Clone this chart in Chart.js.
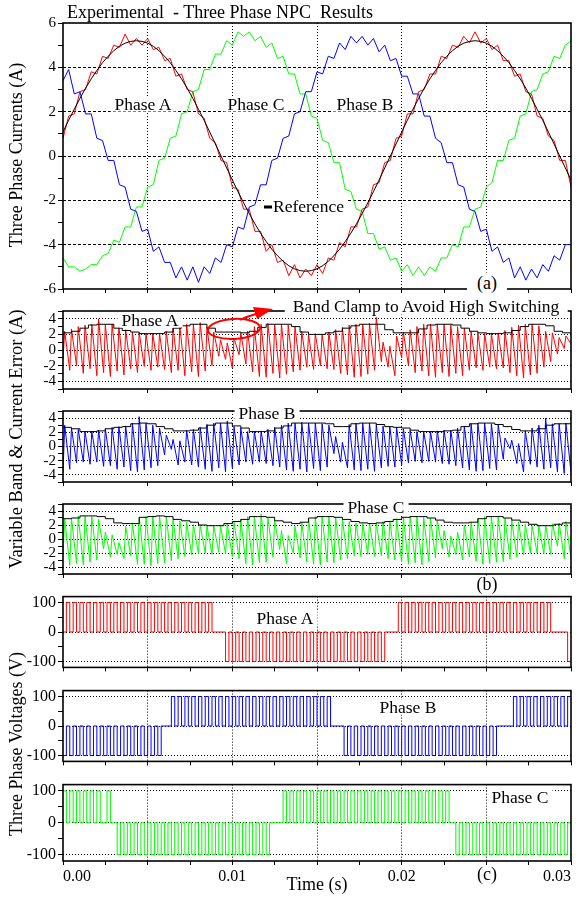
<!DOCTYPE html>
<html lang="en">
<head>
<meta charset="utf-8">
<title>Experimental - Three Phase NPC Results</title>
<script src="https://cdn.jsdelivr.net/npm/chart.js@4.4.1/dist/chart.umd.min.js"></script>
<style>
  html, body { margin: 0; padding: 0; background: #fff; }
  #page { position: relative; width: 578px; height: 899px; overflow: hidden;
          font-family: "Liberation Serif", "Times New Roman", serif; color: #000; }
  #page canvas { position: absolute; left: 0; }
  .note { position: absolute; transform: translate(-50%, -50%); white-space: pre;
          font-size: 17.5px; line-height: 15px; background: #fff; padding: 0 4px; }
  .axis-title { position: absolute; transform: translate(-50%, -50%) rotate(-90deg);
                white-space: nowrap; font-size: 18px; }
  .dash { display: inline-block; width: 8px; height: 3px; background: #000;
          vertical-align: middle; margin-right: 1px; }
</style>
</head>
<body>
<div id="page">
  <div class="note" style="left:67px; top:12px; transform:translateY(-50%); background:none; padding:0; font-size:18px;">Experimental  - Three Phase NPC  Results</div>

  <div class="axis-title" style="left:16px; top:155px;">Three Phase Currents (A)</div>
  <div class="axis-title" style="left:16px; top:439px; font-size:18.5px;">Variable Band &amp; Current Error (A)</div>
  <div class="axis-title" style="left:16px; top:744px;">Three Phase Voltages (V)</div>

  <!-- panel (a) -->
  <div class="note" style="left:143px; top:104px;">Phase A</div>
  <div class="note" style="left:256px; top:104px;">Phase C</div>
  <div class="note" style="left:365px; top:104px;">Phase B</div>
  <div class="note" style="left:264px; top:206px; transform:translateY(-50%); padding:0 3px 0 0;"><span class="dash"></span>Reference</div>
  <div class="note" style="left:487px; top:283px; padding:3px 10px; font-size:18px;">(a)</div>

  <!-- panel (b) -->
  <div class="note" style="left:426px; top:306px; padding:1px 8px;">Band Clamp to Avoid High Switching</div>
  <div class="note" style="left:150px; top:320px;">Phase A</div>
  <div class="note" style="left:267px; top:413px;">Phase B</div>
  <div class="note" style="left:376px; top:507px;">Phase C</div>
  <div class="note" style="left:487px; top:584px; padding:1px 10px; font-size:18px;">(b)</div>

  <!-- panel (c) -->
  <div class="note" style="left:285px; top:618px;">Phase A</div>
  <div class="note" style="left:408px; top:707px;">Phase B</div>
  <div class="note" style="left:520px; top:797px;">Phase C</div>
  <div class="note" style="left:487px; top:874px; background:none; font-size:18px;">(c)</div>
</div>

<script>
const FONT = '"Liberation Serif", "Times New Roman", serif';

// ---------- (a) three phase currents, one sample every 1/3 ms ----------
const currentStep = 0.02 / 60;
const currentA = [
  0.8, 1.8, 1.9, 2.9, 3.0, 3.8, 3.7, 4.5, 4.4, 5.0,
  4.9, 5.5, 5.0, 5.3, 5.0, 5.3, 4.8, 4.9, 4.3, 4.4,
  3.6, 3.7, 3.0, 2.9, 1.9, 1.7, 0.8, 0.6, -0.2, -0.3,
  -1.4, -1.5, -2.4, -2.4, -3.4, -3.4, -4.3, -4.0, -4.8, -4.7,
  -5.4, -4.9, -5.5, -5.1, -5.4, -4.9, -5.3, -4.6, -4.7, -3.9,
  -4.1, -3.2, -3.2, -2.4, -2.3, -1.3, -1.2, -0.3, -0.2, 0.8,
  0.9, 1.9, 1.9, 2.9, 3.0, 3.7, 3.7, 4.5, 4.4, 5.0,
  4.9, 5.4, 5.1, 5.6, 5.1, 5.3, 4.8, 5.0, 4.3, 4.3,
  3.6, 3.7, 2.9, 2.8, 1.8, 1.7, 0.9, 0.7, -0.2, -0.2,
  -1.4
];
const currentB = [
  3.4, 3.9, 2.8, 2.9, 1.9, 1.9, 0.8, 0.7, -0.2, -0.2,
  -1.3, -1.4, -2.4, -2.5, -3.4, -3.3, -4.3, -4.1, -4.8, -4.8,
  -5.5, -5.0, -5.6, -5.0, -5.7, -5.0, -5.3, -4.6, -4.8, -4.0,
  -4.1, -3.2, -3.3, -2.3, -2.2, -1.3, -1.3, -0.2, -0.1, 0.8,
  0.9, 1.9, 2.0, 2.9, 2.9, 3.8, 3.7, 4.5, 4.4, 5.1,
  4.8, 5.4, 5.1, 5.4, 5.0, 5.3, 4.7, 5.0, 4.3, 4.4,
  3.6, 3.6, 2.8, 2.8, 1.8, 1.8, 0.8, 0.6, -0.3, -0.3,
  -1.3, -1.4, -2.4, -2.5, -3.4, -3.3, -4.3, -4.1, -4.8, -4.6,
  -5.5, -5.0, -5.6, -5.1, -5.5, -4.9, -5.2, -4.5, -4.7, -4.0,
  -4.0
];
const currentC = [
  -4.6, -5.0, -5.0, -5.2, -5.1, -4.9, -4.9, -4.5, -4.4, -3.8,
  -3.9, -3.2, -3.2, -2.3, -2.3, -1.4, -1.3, -0.2, -0.1, 0.8,
  0.9, 1.9, 2.0, 2.9, 3.0, 3.9, 3.9, 4.6, 4.6, 5.2,
  5.0, 5.6, 5.4, 5.6, 5.2, 5.4, 4.9, 5.1, 4.4, 4.5,
  3.7, 3.7, 2.8, 2.8, 1.8, 1.7, 0.7, 0.6, -0.3, -0.3,
  -1.5, -1.6, -2.4, -2.5, -3.5, -3.5, -4.2, -4.1, -4.7, -4.6,
  -5.2, -4.9, -5.4, -5.0, -5.4, -5.0, -5.2, -4.6, -4.6, -4.0,
  -4.1, -3.2, -3.2, -2.4, -2.3, -1.4, -1.2, -0.2, -0.2, 0.7,
  0.8, 1.8, 1.9, 2.9, 3.0, 3.7, 3.8, 4.5, 4.4, 5.0,
  5.2
];
const currentRef = [
  1.08, 1.61, 2.11, 2.60, 3.06, 3.48, 3.86, 4.21, 4.50, 4.75,
  4.95, 5.09, 5.17, 5.20, 5.17, 5.09, 4.95, 4.75, 4.50, 4.21,
  3.86, 3.48, 3.06, 2.60, 2.11, 1.61, 1.08, 0.54, 0, -0.54,
  -1.08, -1.61, -2.11, -2.60, -3.06, -3.48, -3.86, -4.21, -4.50, -4.75,
  -4.95, -5.09, -5.17, -5.20, -5.17, -5.09, -4.95, -4.75, -4.50, -4.21,
  -3.86, -3.48, -3.06, -2.60, -2.11, -1.61, -1.08, -0.54, 0, 0.54,
  1.08, 1.61, 2.11, 2.60, 3.06, 3.48, 3.86, 4.21, 4.50, 4.75,
  4.95, 5.09, 5.17, 5.20, 5.17, 5.09, 4.95, 4.75, 4.50, 4.21,
  3.86, 3.48, 3.06, 2.60, 2.11, 1.61, 1.08, 0.54, 0, -0.54,
  -1.08
];

// ---------- (b) current error: alternating low / high extreme of each 0.4 ms switching cycle ----------
const switchPeriod = 0.0004;
const riseTime = 0.0001;
const errorA = [
  -1.2, 2.4, -2.6, 2.7, -2.0, 3.0, -3.0, 3.2, -2.4, 3.3,
  -3.3, 4.0, -2.9, 3.3, -3.4, 3.3, -2.7, 3.0, -3.2, 2.6,
  -2.4, 2.3, -2.9, 2.2, -2.1, 2.1, -2.6, 2.1, -2.2, 2.1,
  -2.5, 2.4, -2.9, 2.8, -2.6, 3.1, -3.3, 3.3, -2.8, 3.3,
  -3.4, 3.5, -2.7, 2.9, -2.0, 2.3, -0.8, 1.3, -1.2, 0.9,
  -2.3, 1.5, -0.6, 2.2, -1.8, 2.4, -2.8, 3.0, -3.4, 3.3,
  -3.5, 3.4, -3.0, 3.3, -3.6, 3.3, -3.1, 3.2, -2.8, 3.0,
  -2.6, 2.4, -2.2, 2.0, -2.5, 2.1, -2.0, 2.0, -2.4, 2.3,
  -2.5, 2.6, -3.0, 2.9, -3.2, 3.2, -3.5, 3.3, -3.4, 3.3,
  -3.1, 3.4, -2.6, 4.2, -1.5, 1.0, -2.2, 0.5, -3.3, 1.8,
  -1.0, 2.3, -2.0, 2.6, -2.9, 3.0, -2.7, 3.3, -3.3, 3.3,
  -3.5, 3.3, -2.9, 3.3, -3.4, 3.2, -3.0, 3.0, -3.3, 2.8,
  -2.6, 2.4, -2.3, 2.2, -2.6, 2.1, -2.2, 2.1, -2.4, 2.2,
  -2.3, 2.5, -2.9, 2.9, -3.3, 3.2, -3.6, 3.3, -3.2, 3.3,
  -3.0, 3.1, -2.2, 2.4, -1.5, 2.2, -0.5, 1.6, 0.2, 1.8, 0.8
];
const errorB = [
  -3.7, 3.0, -3.2, 2.6, -2.3, 2.4, -2.2, 2.1, -2.5, 2.1,
  -2.2, 2.3, -2.8, 2.5, -2.7, 2.7, -3.2, 2.8, -2.9, 2.9,
  -3.4, 3.3, -3.6, 4.2, -3.3, 3.3, -3.0, 3.0, -2.7, 2.6,
  -1.2, 1.6, -0.4, 1.0, -2.6, 0.8, -2.2, 2.3, -2.6, 2.4,
  -2.9, 2.7, -3.2, 3.1, -3.5, 3.3, -3.0, 3.3, -3.6, 3.6,
  -3.0, 2.8, -2.6, 2.6, -2.2, 2.1, -2.5, 2.1, -2.2, 2.2,
  -2.4, 2.4, -2.7, 2.7, -2.9, 3.0, -3.3, 3.3, -3.5, 3.3,
  -3.2, 3.4, -3.6, 3.3, -3.1, 3.3, -3.4, 3.2, -2.9, 3.0,
  -1.0, 1.4, -2.2, 0.6, -3.0, 3.1, -3.3, 3.3, -3.4, 3.3,
  -3.2, 3.3, -3.5, 3.1, -3.0, 2.9, -2.8, 2.8, -2.9, 2.7,
  -2.6, 2.5, -2.3, 2.3, -2.1, 2.1, -2.3, 2.1, -2.1, 2.1,
  -2.2, 2.2, -2.4, 2.3, -2.5, 2.3, -2.7, 2.6, -3.0, 2.9,
  -3.3, 3.2, -3.5, 3.3, -3.4, 3.3, -3.1, 3.2, -3.3, 3.1,
  -1.8, 1.2, -0.3, 0.9, -2.4, 0.4, -3.6, 2.2, -2.5, 2.6,
  -2.9, 3.0, -3.2, 4.0, -3.0, 3.2, -3.6, 3.2, -3.8, 3.3, -3.7
];
const errorC = [
  -2.6, 2.9, -3.8, 3.0, -3.5, 3.3, -3.7, 3.3, -3.3, 3.2,
  -3.0, 2.8, -1.4, 1.0, -2.6, 0.6, -2.2, -0.5, -2.8, 1.8,
  -2.4, 2.3, -3.6, 3.1, -3.6, 3.2, -3.8, 3.3, -3.5, 3.3,
  -3.4, 3.2, -3.1, 2.8, -2.8, 2.6, -2.5, 2.4, -2.3, 2.1,
  -2.1, 2.0, -2.0, 1.9, -2.2, 1.9, -1.9, 1.9, -2.1, 2.2,
  -2.5, 2.5, -2.8, 2.8, -3.5, 3.2, -3.7, 3.2, -3.4, 3.6,
  -3.3, 3.0, -2.6, 2.6, -1.5, 1.2, -3.5, 0.5, -2.0, 1.8,
  -2.7, 2.4, -3.3, 3.0, -3.6, 3.2, -3.7, 3.2, -3.3, 3.2,
  -3.4, 3.1, -3.0, 2.8, -2.8, 2.5, -2.4, 2.3, -2.5, 2.2,
  -2.2, 2.3, -2.5, 2.3, -2.4, 2.5, -2.8, 2.6, -3.0, 2.9,
  -3.3, 3.1, -3.6, 3.2, -3.4, 3.2, -3.7, 3.1, -3.2, 3.0,
  -2.7, 2.6, -1.4, 1.2, -2.6, 0.4, -2.2, 1.0, -3.0, 2.0,
  -2.6, 2.4, -3.2, 3.0, -3.6, 3.2, -3.5, 3.2, -3.3, 3.2,
  -3.2, 3.0, -2.9, 2.7, -2.6, 2.4, -2.3, 2.1, -2.0, 1.9,
  -2.0, 1.9, -2.1, 2.0, -2.2, 2.2, -1.0, 2.3, -2.8, 2.5, -2.8
];
// variable hysteresis band, one value every 0.5 ms
const bandStep = 0.0005;
const bandA = [
  2.2, 2.4, 2.8, 3.2, 3.3, 3.3, 2.8, 2.5, 2.3, 2.1,
  2.1, 2.1, 2.3, 2.8, 3.1, 3.3, 3.3, 2.8, 2.3, 2.3,
  2.3, 2.2, 2.4, 2.9, 3.3, 3.3, 3.3, 3.0, 2.3, 2.0,
  2.0, 2.2, 2.4, 2.8, 3.1, 3.3, 3.3, 3.3, 2.6, 2.2,
  2.2, 2.2, 2.7, 3.2, 3.3, 3.3, 3.2, 2.8, 2.4, 2.2,
  2.1, 2.1, 2.2, 2.5, 3.0, 3.3, 3.3, 3.1, 2.4, 2.2,
  2.2
];
const bandB = [
  2.7, 2.5, 2.1, 2.1, 2.2, 2.5, 2.7, 2.8, 3.2, 3.3,
  3.2, 2.8, 2.5, 2.2, 2.2, 2.3, 2.6, 3.0, 3.3, 3.3,
  2.9, 2.6, 2.1, 2.1, 2.2, 2.6, 2.9, 3.3, 3.3, 3.3,
  3.3, 3.2, 2.8, 2.8, 3.2, 3.3, 3.3, 3.1, 2.8, 2.7,
  2.6, 2.3, 2.1, 2.1, 2.1, 2.2, 2.3, 2.8, 3.2, 3.3,
  3.3, 3.1, 2.8, 2.4, 2.2, 2.2, 2.5, 3.0, 3.2, 3.2,
  3.2
];
const bandC = [
  2.9, 3.0, 3.3, 3.3, 3.2, 2.9, 2.3, 2.2, 2.2, 3.1,
  3.2, 3.3, 3.2, 2.8, 2.6, 2.4, 2.0, 1.9, 1.9, 2.2,
  2.5, 2.8, 3.2, 3.2, 3.1, 2.6, 2.4, 2.2, 2.4, 3.0,
  3.2, 3.2, 3.1, 2.8, 2.5, 2.3, 2.2, 2.3, 2.5, 2.8,
  3.1, 3.2, 3.2, 3.0, 2.7, 2.4, 2.3, 2.3, 2.4, 2.9,
  3.2, 3.2, 3.0, 2.7, 2.4, 2.1, 1.9, 1.9, 2.1, 2.3,
  2.5
];

// ---------- (c) phase voltage level held in each 0.2 ms slot ----------
const voltStep = 0.0002;
const voltA = [
  0,
  100, 0, 100, 0, 100, 0, 100, 0, 100, 0,
  100, 0, 100, 0, 100, 0, 100, 0, 100, 0,
  100, 0, 100, 0, 100, 0, 100, 0, 100, 0,
  100, 0, 100, 0, 100, 0, 100, 0, 100, 0,
  100, 0, 100,
  0, 0, 0, 0,
  -100, 0,
  -100, 0, -100, 0, -100, 0, -100, 0, -100, 0,
  -100, 0, -100, 0, -100, 0, -100, 0, -100, 0,
  -100, 0, -100, 0, -100, 0, -100, 0, -100, 0,
  -100, 0, -100, 0, -100, 0, -100, 0, -100, 0,
  -100, 0, -100, 0, -100, 0,
  0, 0, 0,
  100, 0, 100, 0, 100, 0, 100, 0, 100, 0,
  100, 0, 100, 0, 100, 0, 100, 0, 100, 0,
  100, 0, 100, 0, 100, 0, 100, 0, 100, 0,
  100, 0, 100, 0, 100, 0, 100, 0, 100, 0,
  100, 0, 100, 0, 100, 0,
  0, 0, 0, 0,
  -100
];
const voltB = [
  -100, 0, -100, 0, -100, 0, -100, 0, -100, 0,
  -100, 0, -100, 0, -100, 0, -100, 0, -100, 0,
  -100, 0, -100, 0, -100, 0, -100, 0, -100, 0,
  0, 0,
  100, 0, 100, 0, 100, 0, 100, 0, 100, 0,
  100, 0, 100, 0, 100, 0, 100, 0, 100, 0,
  100, 0, 100, 0, 100, 0, 100, 0, 100, 0,
  100, 0, 100, 0, 100, 0, 100, 0, 100, 0,
  100, 0, 100, 0, 100, 0, 100, 0,
  0, 0, 0,
  -100, 0, -100, 0, -100, 0, -100, 0, -100, 0,
  -100, 0, -100, 0, -100, 0, -100, 0, -100, 0,
  -100, 0, -100, 0, -100, 0, -100, 0, -100, 0,
  -100, 0, -100, 0, -100, 0, -100, 0, -100, 0,
  -100, 0, -100, 0, -100, 0,
  0, 0, 0, 0,
  100, 0, 100, 0, 100, 0, 100, 0, 100, 0,
  100, 0, 100, 0, 100, 0, 100
];
const voltC = [
  100, 0, 100, 0, 100, 0, 100, 0, 100, 0, 100, 0, 0, 100,
  0, 0,
  -100, 0, -100, 0, -100, 0, -100, 0, -100, 0,
  -100, 0, -100, 0, -100, 0, -100, 0, -100, 0,
  -100, 0, -100, 0, -100, 0, -100, 0, -100, 0,
  -100, 0, -100, 0, -100, 0, -100, 0, -100, 0,
  -100, 0, -100, 0, -100, 0,
  0, 0, 0,
  100, 0, 100, 0, 100, 0, 100, 0, 100, 0,
  100, 0, 100, 0, 100, 0, 100, 0, 100, 0,
  100, 0, 100, 0, 100, 0, 100, 0, 100, 0,
  100, 0, 100, 0, 100, 0, 100, 0, 100, 0,
  100, 0, 100, 0, 100, 0, 100, 0, 100, 0,
  0,
  -100, 0, -100, 0, -100, 0, -100, 0, -100, 0,
  -100, 0, -100, 0, -100, 0, -100, 0, -100, 0,
  -100, 0, -100, 0, -100, 0, -100, 0, -100, 0,
  -100, 0, -100, 0
];

// ---------- axis ticks ----------
const timeTicksFine = [0, 0.0025, 0.005, 0.0075, 0.01, 0.0125, 0.015, 0.0175, 0.02, 0.0225, 0.025, 0.0275, 0.03];
const timeTicksCoarse = [0, 0.005, 0.01, 0.015, 0.02, 0.025, 0.03];
const timeGridFine = [0.005, 0.01, 0.015, 0.02, 0.025];
const timeGridCoarse = [0.01, 0.02];
const timeLabels = [0, 0.01, 0.02, 0.03];
const currentTicks = [-6, -5, -4, -3, -2, -1, 0, 1, 2, 3, 4, 5, 6];
const currentLabels = [-6, -4, -2, 0, 2, 4, 6];
const currentGrid = [-4, -2, 0, 2, 4];
const errorTicks = [-5, -4, -3, -2, -1, 0, 1, 2, 3, 4, 5];
const errorLabels = [-4, -2, 0, 2, 4];
const voltTicks = [-100, -50, 0, 50, 100];
const voltLabels = [-100, 0, 100];

// ---------- helpers ----------
function sampled(values, step) {
  return values.map((v, i) => ({ x: i * step, y: v }));
}
// low at the start of each switching cycle, high once the switch has turned
function switched(values, period, rise) {
  return values.map((v, i) => ({ x: Math.floor(i / 2) * period + (i % 2 ? rise : 0), y: v }));
}
function held(values, step) {
  const pts = sampled(values, step);
  pts.push({ x: values.length * step, y: values[values.length - 1] });
  return pts;
}
function line(data, color, extra) {
  return Object.assign({ data, borderColor: color, borderWidth: 1, pointRadius: 0, fill: false, tension: 0 }, extra || {});
}

const framePlugin = {
  id: 'frame',
  afterDraw(chart) {
    const { ctx, chartArea: a } = chart;
    ctx.save();
    ctx.strokeStyle = '#000';
    ctx.lineWidth = 1.6;
    ctx.strokeRect(a.left, a.top, a.right - a.left, a.bottom - a.top);
    ctx.restore();
  }
};

// red ellipse + arrow pointing at the clamped band
const clampMark = {
  id: 'clampMark',
  afterDraw(chart) {
    const { ctx, scales: { x, y } } = chart;
    const cx = x.getPixelForValue(0.0101);
    const cy = y.getPixelForValue(2.7);
    ctx.save();
    ctx.strokeStyle = '#ff0000';
    ctx.fillStyle = '#ff0000';
    ctx.lineWidth = 2;
    ctx.beginPath();
    ctx.ellipse(cx, cy, 26, 10, -0.05, 0, Math.PI * 2);
    ctx.stroke();
    ctx.beginPath();
    ctx.moveTo(cx + 6, cy - 9);
    ctx.quadraticCurveTo(cx + 14, cy - 13, cx + 22, cy - 15);
    ctx.stroke();
    ctx.beginPath();
    ctx.moveTo(cx + 39, cy - 20);
    ctx.lineTo(cx + 19, cy - 22);
    ctx.lineTo(cx + 23, cy - 10);
    ctx.closePath();
    ctx.fill();
    ctx.restore();
  }
};

function timeAxis(ticks, grid, dash, withLabels, height) {
  return {
    type: 'linear', min: 0, max: 0.03,
    afterBuildTicks: s => { s.ticks = ticks.map(v => ({ value: v })); },
    afterFit: s => { s.height = height; },
    grid: {
      color: c => (c.tick && grid.includes(c.tick.value)) ? '#000' : 'rgba(0,0,0,0)',
      tickColor: '#000', tickLength: 4, lineWidth: 1
    },
    border: { display: false, dash: dash },
    ticks: {
      display: withLabels, autoSkip: false, maxRotation: 0, align: 'inner', padding: 2,
      color: '#000', font: { family: FONT, size: 16 },
      callback: v => timeLabels.includes(v) ? v.toFixed(2) : ''
    },
    title: withLabels
      ? { display: true, text: 'Time (s)', color: '#000', font: { family: FONT, size: 18 }, padding: { top: 0, bottom: 0 } }
      : { display: false }
  };
}

function valueAxis(min, max, ticks, labels, grid, dash, size) {
  return {
    type: 'linear', min, max,
    afterBuildTicks: s => { s.ticks = ticks.map(v => ({ value: v })); },
    afterFit: s => { s.width = 63; },
    grid: {
      color: c => (c.tick && grid.includes(c.tick.value)) ? '#000' : 'rgba(0,0,0,0)',
      tickColor: '#000', tickLength: 5, lineWidth: 1
    },
    border: { display: false, dash: dash },
    ticks: {
      autoSkip: false, padding: 2, color: '#000', font: { family: FONT, size: size },
      callback: v => labels.includes(v) ? String(v) : ''
    }
  };
}

const page = document.getElementById('page');

function panel(spec) {
  const canvas = document.createElement('canvas');
  canvas.width = 578;
  canvas.height = spec.padTop + spec.plotH + spec.axisH + spec.padBottom;
  canvas.style.top = spec.top + 'px';
  page.insertBefore(canvas, page.firstChild);
  return new Chart(canvas, {
    type: 'line',
    data: { datasets: spec.datasets },
    options: {
      responsive: false, animation: false, devicePixelRatio: 1, events: [],
      layout: { autoPadding: false, padding: { top: spec.padTop, right: 7, bottom: spec.padBottom, left: 0 } },
      plugins: { legend: { display: false }, tooltip: { enabled: false } },
      scales: { x: spec.x, y: spec.y }
    },
    plugins: [framePlugin].concat(spec.extra || [])
  });
}

const RED = '#ff0000', GREEN = '#00ff00', BLUE = '#0000ff', BLACK = '#000000';

// (a) currents
panel({
  top: 8, padTop: 15, plotH: 271, axisH: 6, padBottom: 0,
  x: timeAxis(timeTicksFine, timeGridFine, [1, 2], false, 6),
  y: valueAxis(-6, 6, currentTicks, currentLabels, currentGrid, [3, 2], 15),
  datasets: [
    line(sampled(currentRef, currentStep), BLACK),
    line(sampled(currentA, currentStep), RED),
    line(sampled(currentB, currentStep), BLUE),
    line(sampled(currentC, currentStep), GREEN)
  ]
});

// (b) band and error, one panel per phase
[
  { top: 300, padTop: 9, plotH: 85, err: errorA, band: bandA, color: RED, extra: [clampMark] },
  { top: 400, padTop: 3, plotH: 84, err: errorB, band: bandB, color: BLUE },
  { top: 493, padTop: 3, plotH: 83, err: errorC, band: bandC, color: GREEN }
].forEach(p => panel({
  top: p.top, padTop: p.padTop, plotH: p.plotH, axisH: 6, padBottom: 0,
  x: timeAxis(timeTicksCoarse, timeGridCoarse, [1, 2], false, 6),
  y: valueAxis(-5, 5, errorTicks, errorLabels, errorLabels, [1, 2], 15),
  datasets: [
    line(sampled(p.band, bandStep), BLACK, { stepped: true }),
    line(switched(p.err, switchPeriod, riseTime), p.color)
  ],
  extra: p.extra
}));

// (c) phase voltages
[
  { top: 585, padTop: 6, plotH: 82, axisH: 6, padBottom: 0, v: voltA, color: RED, labels: false },
  { top: 679, padTop: 7, plotH: 81, axisH: 6, padBottom: 0, v: voltB, color: BLUE, labels: false },
  { top: 773, padTop: 5, plotH: 83, axisH: 35, padBottom: 3, v: voltC, color: GREEN, labels: true }
].forEach(p => panel({
  top: p.top, padTop: p.padTop, plotH: p.plotH, axisH: p.axisH, padBottom: p.padBottom,
  x: timeAxis(timeTicksFine, timeGridFine, [1, 2], p.labels, p.axisH),
  y: valueAxis(-120, 120, voltTicks, voltLabels, voltLabels, [1, 2], 16),
  datasets: [line(held(p.v, voltStep), p.color, { stepped: true })]
}));
</script>
</body>
</html>
